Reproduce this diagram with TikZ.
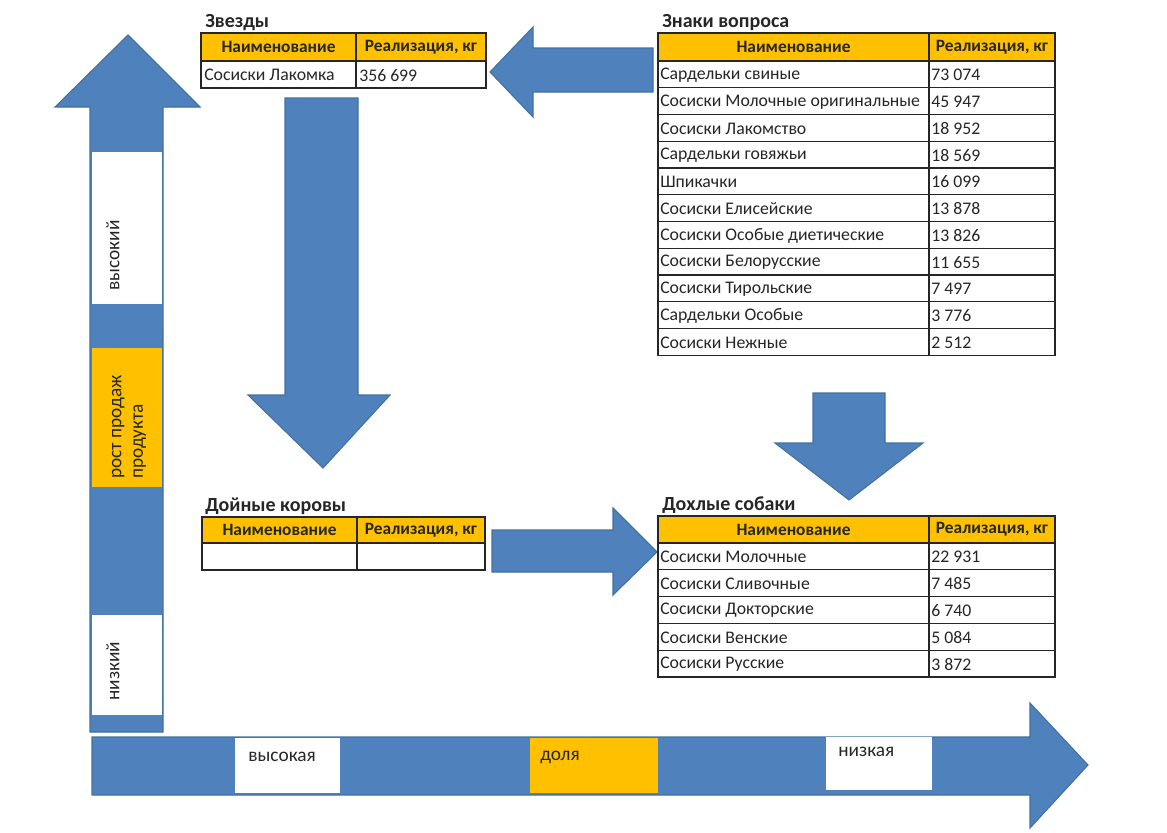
\documentclass[tikz,border=0pt]{standalone}
\usepackage{fontspec}
\setmainfont{Carlito}
\usetikzlibrary{positioning}
\definecolor{arrowblue}{HTML}{4F81BD}
\definecolor{arrowedge}{HTML}{41719C}
\definecolor{headgold}{HTML}{FFC000}
\definecolor{inktext}{HTML}{262626}

\begin{document}
\begin{tikzpicture}[
    x=0.75pt, y=-0.75pt,
    blockarrow/.style={fill=arrowblue, draw=arrowedge, line width=0.8pt, line join=miter},
    title/.style={anchor=base west, inner sep=0pt, font=\bfseries\fontsize{15}{17}\selectfont, text=inktext},
    headcell/.style={fill=headgold, draw=black!85, line width=0.8pt},
    bodycell/.style={fill=white, draw=black!85, line width=0.8pt},
    headtext/.style={inner sep=0pt, font=\bfseries\fontsize{13}{15}\selectfont, text=inktext},
    celltext/.style={anchor=west, inner sep=0pt, font=\fontsize{13.3}{15}\selectfont, text=inktext},
    axistext/.style={anchor=west, inner sep=0pt, font=\fontsize{14.5}{16}\selectfont, text=inktext}
]
\useasboundingbox (0,0) rectangle (1167,832);

% Vertical axis arrow
\draw[blockarrow] (90,732) -- (90,107) -- (55,107) -- (128,35) -- (200,107)
    -- (163,107) -- (163,732) -- cycle;
\fill[white] (92,152) rectangle (162,304);
\fill[headgold] (92,348) rectangle (162,487);
\fill[white] (92,615) rectangle (162,715);
\node[axistext, rotate=90] (vhigh) at (113,291) {высокий};
\node[axistext, rotate=90, align=left] (vgrowth) at (129,479) {рост продаж\\продукта};
\node[axistext, rotate=90] (vlow) at (113,701) {низкий};

% Horizontal axis arrow
\draw[blockarrow] (92,737) -- (1030,737) -- (1030,703) -- (1088,765)
    -- (1030,828) -- (1030,795) -- (92,795) -- cycle;
\fill[white] (235,738) rectangle (340,793);
\fill[headgold] (530,738) rectangle (658,793);
\fill[white] (826,737) rectangle (932,790);
\node[axistext] (hhigh) at (248,757) {высокая};
\node[axistext] (hshare) at (540,757) {доля};
\node[axistext] (hlow) at (838,752) {низкая};

% Arrows between quadrants
\draw[blockarrow] (653,48) -- (533,48) -- (533,27) -- (490,72) -- (533,117)
    -- (533,92) -- (653,92) -- cycle;
\draw[blockarrow] (285,98) -- (358,98) -- (358,395) -- (390,395) -- (323,468)
    -- (248,395) -- (285,395) -- cycle;
\draw[blockarrow] (813,393) -- (885,393) -- (885,443) -- (923,443) -- (849,500)
    -- (775,443) -- (813,443) -- cycle;
\draw[blockarrow] (492,530) -- (613,530) -- (613,508) -- (657,552) -- (613,595)
    -- (613,572) -- (492,572) -- cycle;

% Stars
\node[title] (stars) at (205,27) {Звезды};
\draw[headcell] (201,33) rectangle (356,61) (356,33) rectangle (486,61);
\draw[bodycell] (201,61) rectangle (356,88) (356,61) rectangle (486,88);
\node[headtext] (s-h1) at (278.5,47) {Наименование};
\node[headtext] (s-h2) at (421,47) {Реализация, кг};
\node[celltext] (s-n1) at (204,74.5) {Сосиски Лакомка};
\node[celltext] (s-v1) at (359,75.5) {356 699};

% Question marks
\node[title] (quest) at (662,27) {Знаки вопроса};
\draw[headcell] (658,33) rectangle (929,61) (929,33) rectangle (1055,61);
\node[headtext] (q-h1) at (793.5,47) {Наименование};
\node[headtext] (q-h2) at (992,47) {Реализация, кг};
\foreach \name/\val [count=\i] in {Сардельки свиные/73 074,
    Сосиски Молочные оригинальные/45 947, Сосиски Лакомство/18 952,
    Сардельки говяжьи/18 569, Шпикачки/16 099, Сосиски Елисейские/13 878,
    Сосиски Особые диетические/13 826, Сосиски Белорусские/11 655,
    Сосиски Тирольские/7 497, Сардельки Особые/3 776, Сосиски Нежные/2 512}
{
    \pgfmathsetmacro\ytop{61+(\i-1)*26.75}
    \draw[bodycell] (658,\ytop) rectangle (929,\ytop+26.75)
        (929,\ytop) rectangle (1055,\ytop+26.75);
    \node[celltext] (q-n\i) at (660,\ytop+14) {\name};
    \node[celltext] (q-v\i) at (931,\ytop+14) {\val};
}

% Cash cows
\node[title] (cows) at (205,511) {Дойные коровы};
\draw[headcell] (202,517) rectangle (357,543) (357,517) rectangle (485,543);
\draw[bodycell] (202,543) rectangle (357,570) (357,543) rectangle (485,570);
\node[headtext] (c-h1) at (279.5,530) {Наименование};
\node[headtext] (c-h2) at (421,530) {Реализация, кг};

% Dogs
\node[title] (dogs) at (662,510) {Дохлые собаки};
\draw[headcell] (658,516) rectangle (929,543) (929,516) rectangle (1055,543);
\node[headtext] (d-h1) at (793.5,529.5) {Наименование};
\node[headtext] (d-h2) at (992,529.5) {Реализация, кг};
\foreach \name/\val [count=\i] in {Сосиски Молочные/22 931,
    Сосиски Сливочные/7 485, Сосиски Докторские/6 740,
    Сосиски Венские/5 084, Сосиски Русские/3 872}
{
    \pgfmathsetmacro\ytop{543+(\i-1)*26.8}
    \draw[bodycell] (658,\ytop) rectangle (929,\ytop+26.8)
        (929,\ytop) rectangle (1055,\ytop+26.8);
    \node[celltext] (d-n\i) at (660,\ytop+14) {\name};
    \node[celltext] (d-v\i) at (931,\ytop+14) {\val};
}

\end{tikzpicture}
\end{document}
